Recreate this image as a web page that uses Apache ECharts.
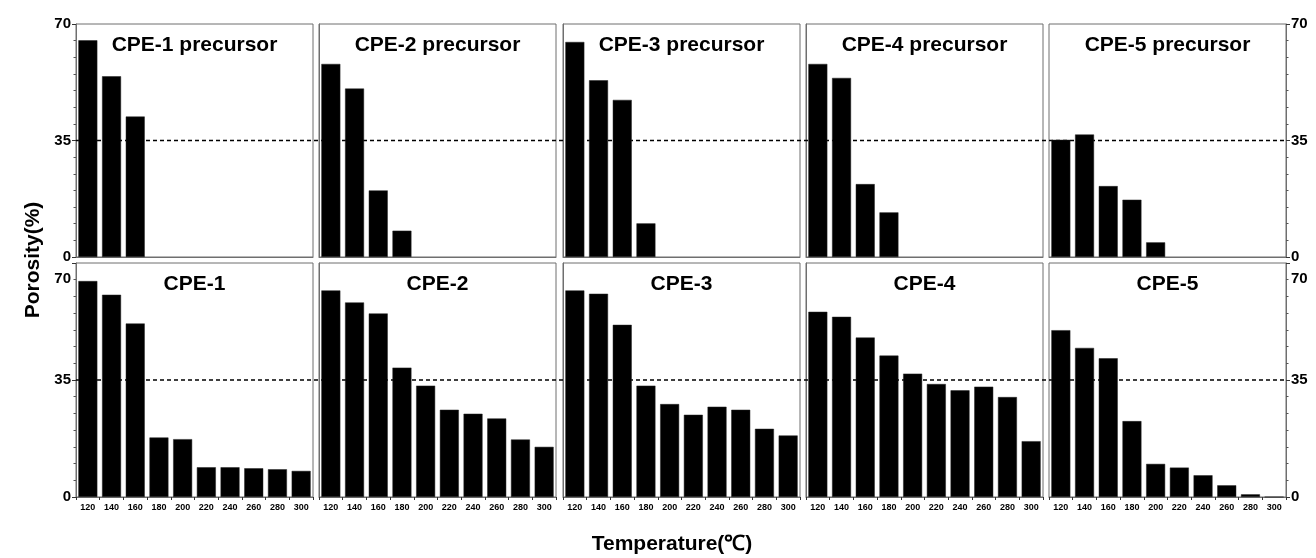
<!DOCTYPE html>
<html>
<head>
<meta charset="utf-8">
<script src="https://cdn.jsdelivr.net/npm/echarts@6/dist/echarts.min.js"></script>
<style>
  html, body { margin: 0; padding: 0; background: #fff; }
  #chart { width: 1316px; height: 558px; }
</style>
</head>
<body>
<div id="chart"></div>
<script>
// temperatures (℃)
const categories = ['120', '140', '160', '180', '200', '220', '240', '260', '280', '300'];

// porosity (%) of the precursors, top row
const precursorNames = ['CPE-1 precursor', 'CPE-2 precursor', 'CPE-3 precursor', 'CPE-4 precursor', 'CPE-5 precursor'];
const cpe1Precursor = [65.1, 54.3, 42.2];
const cpe2Precursor = [58.0, 50.6, 20.0, 7.9];
const cpe3Precursor = [64.6, 53.1, 47.2, 10.1];
const cpe4Precursor = [58.0, 53.8, 21.9, 13.4];
const cpe5Precursor = [35.2, 36.8, 21.3, 17.2, 4.4];

// porosity (%) of the products, bottom row
const productNames = ['CPE-1', 'CPE-2', 'CPE-3', 'CPE-4', 'CPE-5'];
const cpe1 = [64.6, 60.5, 51.9, 17.8, 17.3, 8.9, 8.9, 8.6, 8.3, 7.8];
const cpe2 = [61.8, 58.2, 54.9, 38.7, 33.3, 26.1, 24.9, 23.5, 17.2, 15.0];
const cpe3 = [61.8, 60.8, 51.5, 33.3, 27.8, 24.6, 27.0, 26.1, 20.4, 18.4];
const cpe4 = [55.4, 53.9, 47.7, 42.3, 36.9, 33.8, 31.9, 33.0, 29.9, 16.7];
const cpe5 = [49.9, 44.6, 41.5, 22.7, 9.9, 8.8, 6.5, 3.5, 0.8, 0];

// y axis
const yMin = 0;
const yMax = 70;
const yInterval = 35;
const threshold = 35;

const rows = [
  { names: precursorNames, data: [cpe1Precursor, cpe2Precursor, cpe3Precursor, cpe4Precursor, cpe5Precursor] },
  { names: productNames, data: [cpe1, cpe2, cpe3, cpe4, cpe5] }
];

const chart = echarts.init(document.getElementById('chart'));

const frame = '#6f6f6f';
const font = 'Liberation Sans, Arial, sans-serif';
const lefts = [76, 319, 563, 806, 1049];
const panelW = 237;
const tops = [24, 263];
const heights = [233, 234];

const grid = [], xAxis = [], yAxis = [], series = [], title = [];

rows.forEach((row, r) => {
  row.data.forEach((vals, c) => {
    const idx = grid.length;
    grid.push({
      left: lefts[c], top: tops[r], width: panelW, height: heights[r],
      show: true, borderColor: frame, borderWidth: 1, backgroundColor: 'transparent'
    });
    xAxis.push({
      type: 'category', gridIndex: idx, data: categories,
      axisLine: { show: true, lineStyle: { color: frame, width: 1 } },
      axisTick: { show: r === 1, length: 3, lineStyle: { color: '#333' } },
      axisLabel: {
        show: r === 1, color: '#000', fontSize: 9, fontWeight: 'bold',
        fontFamily: font, margin: 6, interval: 0
      },
      splitLine: { show: false }
    });
    const edge = c === 0 || c === 4;
    yAxis.push({
      type: 'value', gridIndex: idx, min: yMin, max: yMax, interval: yInterval,
      position: c === 4 ? 'right' : 'left',
      axisLine: { show: true, lineStyle: { color: frame, width: 1 } },
      axisTick: { show: edge, length: 4, lineStyle: { color: '#333' } },
      minorTick: { show: edge, splitNumber: 7, length: 2.5, lineStyle: { color: '#555' } },
      axisLabel: {
        show: edge, color: '#000', fontSize: 15, fontWeight: 'bold', fontFamily: font, margin: 5,
        formatter: v => (r === 1 && v === yMax ? '{lo|' + v + '}' : String(v)),
        rich: { lo: { padding: [31, 0, 0, 0], fontSize: 15, fontWeight: 'bold', fontFamily: font, color: '#000' } }
      },
      splitLine: { show: false }
    });
    series.push({
      type: 'bar', xAxisIndex: idx, yAxisIndex: idx, data: vals,
      barCategoryGap: '20%',
      itemStyle: { color: '#000', borderColor: '#222', borderWidth: 0.5 },
      silent: true
    });
    title.push({
      text: row.names[c],
      left: lefts[c] + panelW / 2, top: r === 0 ? 35 : 274,
      textAlign: 'center', padding: 0,
      textStyle: { fontSize: 21, fontWeight: 'bold', fontFamily: font, color: '#000' }
    });
  });
});

// dashed reference line at 35 %, spanning each whole row
tops.forEach((t, r) => {
  const idx = grid.length;
  grid.push({ left: lefts[0], top: t, width: lefts[4] + panelW - lefts[0], height: heights[r] });
  xAxis.push({ type: 'value', gridIndex: idx, min: 0, max: 1, show: false });
  yAxis.push({ type: 'value', gridIndex: idx, min: yMin, max: yMax, show: false });
  series.push({
    type: 'line', xAxisIndex: idx, yAxisIndex: idx,
    data: [[0, threshold], [1, threshold]],
    symbol: 'none', silent: true, z: 1,
    lineStyle: { color: '#000', width: 1.3, type: [4, 3] }
  });
});

chart.setOption({
  animation: false,
  backgroundColor: '#fff',
  title,
  grid, xAxis, yAxis, series,
  graphic: [
    {
      type: 'text', x: 33, y: 260, rotation: Math.PI / 2,
      style: {
        text: 'Porosity(%)', fill: '#000', font: 'bold 21px ' + font,
        textAlign: 'center', textVerticalAlign: 'middle'
      }
    },
    {
      type: 'text', x: 672, y: 544,
      style: {
        text: 'Temperature(℃)', fill: '#000', font: 'bold 21px ' + font,
        textAlign: 'center', textVerticalAlign: 'middle'
      }
    }
  ]
});
</script>
</body>
</html>
